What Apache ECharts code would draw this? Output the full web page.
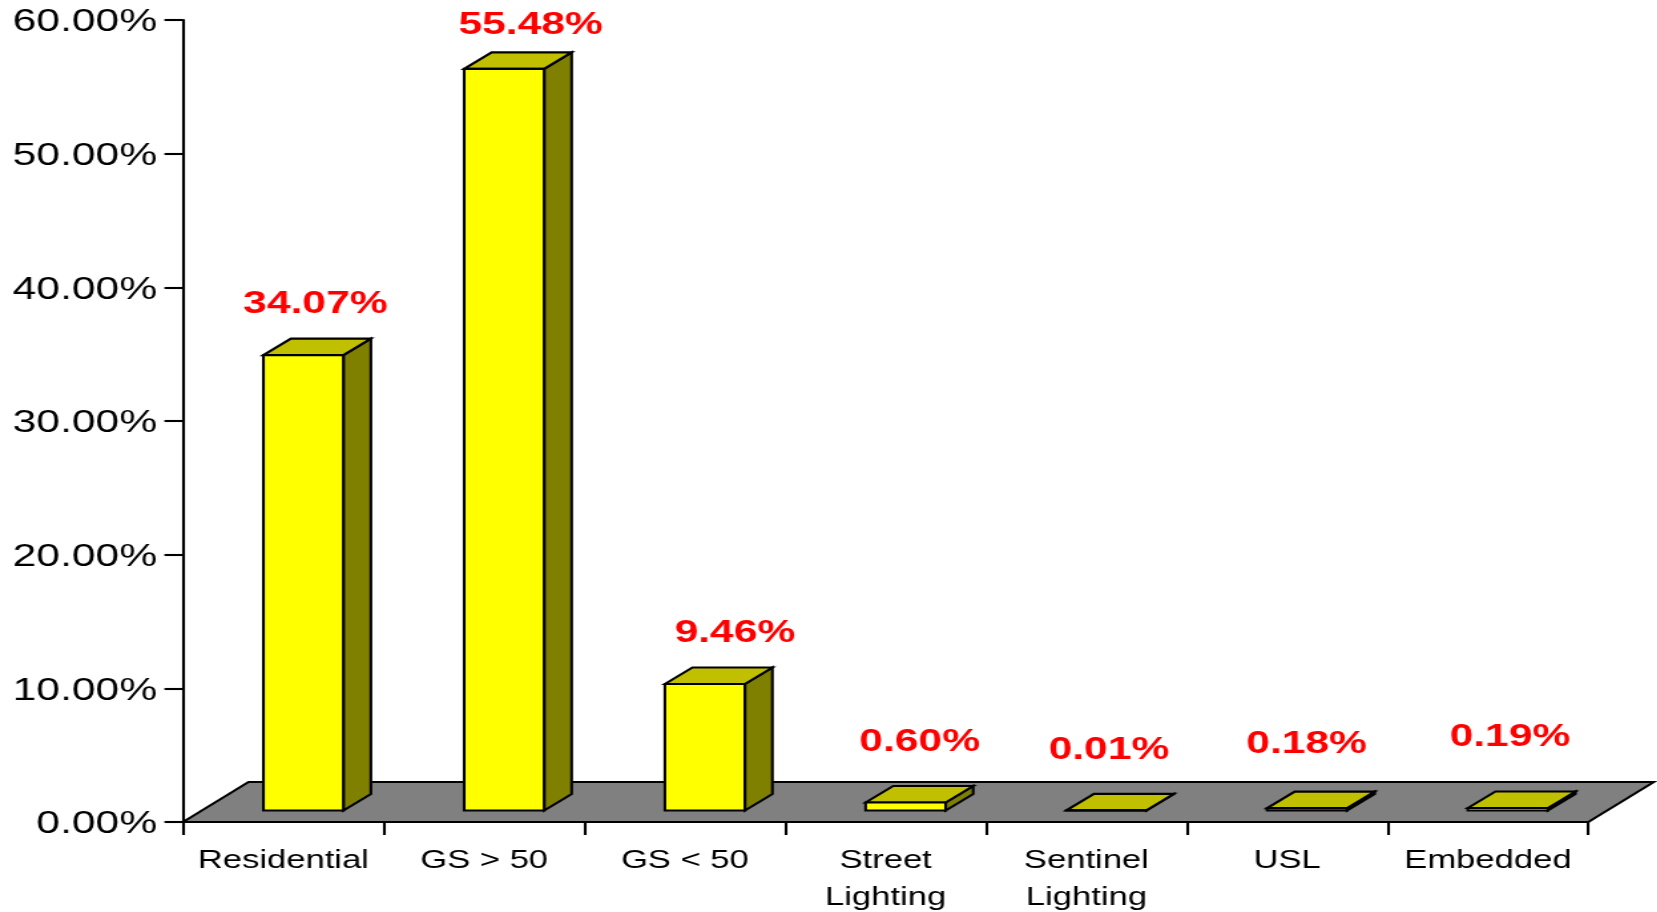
<!DOCTYPE html>
<html>
<head>
<meta charset="utf-8">
<style>
html,body{margin:0;padding:0;background:#fff;width:1657px;height:912px;overflow:hidden}
#chart{position:absolute;left:0;top:0;width:1246px;height:912px;transform-origin:0 0;transform:scaleX(1.33)}
</style>
<script src="https://cdn.jsdelivr.net/npm/echarts@6/dist/echarts.min.js"></script>
</head>
<body>
<div id="chart"></div>
<script>
const categories = ['Residential','GS > 50','GS < 50','Street\nLighting','Sentinel\nLighting','USL','Embedded'];
const shares = [34.07,55.48,9.46,0.60,0.01,0.18,0.19];
const shareLabels = ['34.07%','55.48%','9.46%','0.60%','0.01%','0.18%','0.19%'];
const yTicks = {min:0,max:60,interval:10};
const floorRows = [0];

const FONT = '"Liberation Sans", Arial, sans-serif';
const STRETCH = 1.33;
const LINE = 2.1;
const BAR_W = 80/STRETCH, BAR_SHIFT_X = 20/STRETCH, BAR_SHIFT_Y = -11.5;
const BAR_DX = 27.5/STRETCH, BAR_DY = -16.5;
const FLOOR_DX = 65.5/STRETCH, FLOOR_DY = -40;
const LABEL_NUDGE = [[12,-50.5],[26.5,-43.5],[30,-51],[14,-60],[2.5,-60.5],[-0.5,-63.5],[2,-70.5]];

function poly(points, fill){
  return {type:'polygon',shape:{points},style:{fill,stroke:'#000',lineWidth:LINE,lineJoin:'miter'}};
}
function renderBar(params, api){
  const i = api.value(0);
  const top = api.coord([i, api.value(1)]);
  const zero = api.coord([i, 0]);
  const cx = top[0] + BAR_SHIFT_X;
  const l = cx - BAR_W/2, r = cx + BAR_W/2;
  const t = top[1] + BAR_SHIFT_Y, b = zero[1] + BAR_SHIFT_Y;
  const n = LABEL_NUDGE[i];
  return {type:'group',children:[
    poly([[r,b],[r+BAR_DX,b+BAR_DY],[r+BAR_DX,t+BAR_DY],[r,t]],'#808000'),
    poly([[l,t],[l+BAR_DX,t+BAR_DY],[r+BAR_DX,t+BAR_DY],[r,t]],'#C0C000'),
    poly([[l,b],[r,b],[r,t],[l,t]],'#FFFF00'),
    {type:'text',style:{x:cx+n[0]/STRETCH,y:t+n[1],text:shareLabels[i],fill:'#FF0000',
      font:'bold 32px '+FONT,textAlign:'center',textVerticalAlign:'middle'}}
  ]};
}
function renderFloor(params, api){
  const o = api.coord([0, 0]);
  const band = api.size([1, 0])[0];
  const l = o[0] - band/2, r = l + band*categories.length, y = o[1];
  return poly([[l,y],[l+FLOOR_DX,y+FLOOR_DY],[r+FLOOR_DX,y+FLOOR_DY],[r,y]],'#808080');
}

const chart = echarts.init(document.getElementById('chart'));
chart.setOption({
  animation:false,
  backgroundColor:'#fff',
  grid:{left:137.6,top:20,width:1056.6,height:802,containLabel:false,outerBoundsMode:'none'},
  xAxis:{type:'category',data:categories,z:5,
    axisLine:{lineStyle:{color:'#000',width:LINE}},
    axisTick:{show:true,alignWithLabel:false,length:13,lineStyle:{color:'#000',width:LINE}},
    axisLabel:{interval:0,color:'#000',fontFamily:FONT,fontSize:26,lineHeight:37,margin:20}},
  yAxis:{type:'value',min:yTicks.min,max:yTicks.max,interval:yTicks.interval,z:5,
    axisLine:{show:true,lineStyle:{color:'#000',width:LINE}},
    axisTick:{show:true,length:14,lineStyle:{color:'#000',width:LINE}},
    splitLine:{show:false},
    axisLabel:{color:'#000',fontFamily:FONT,fontSize:32,margin:19.5,verticalAlign:'top',lineHeight:5,
      formatter:v=>v.toFixed(2)+'%'}},
  series:[
    {type:'custom',name:'floor',coordinateSystem:'cartesian2d',z:1,silent:true,
     encode:{x:0,y:1},data:floorRows.map(v=>[0,v]),renderItem:renderFloor},
    {type:'custom',name:'share',coordinateSystem:'cartesian2d',z:2,silent:true,
     encode:{x:0,y:1},data:shares.map((v,i)=>[i,v]),renderItem:renderBar}
  ]
});
</script>
</body>
</html>
